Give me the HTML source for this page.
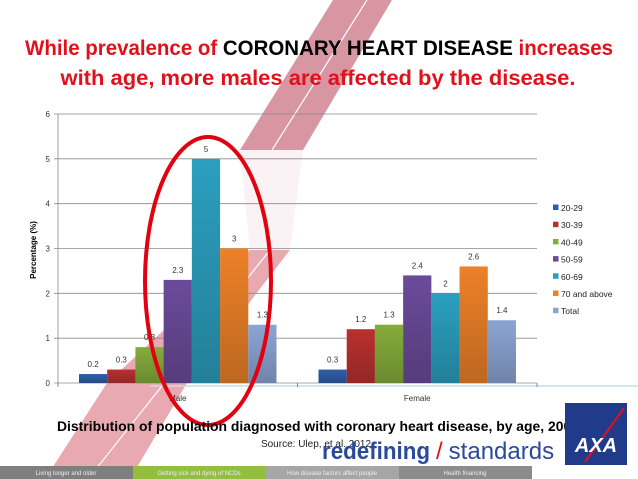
<!DOCTYPE html>
<html><head><meta charset="utf-8"><style>
html,body{margin:0;padding:0;background:#fff;}
svg{display:block;font-family:"Liberation Sans",sans-serif;}
</style></head><body>
<svg id="chart" width="638" height="479" viewBox="0 0 638 479">
  <g>
    <polygon points="333,0 392,0 303,150 240,150" fill="#d48a98" opacity="0.9"/>
    <polygon points="240,150 303,150 290,250 250,250 " fill="#f3dfe3" opacity="0.4"/>
    <polygon points="250,250 290,250 187,383 130,479 45,479 107,383" fill="#e7a0a8" opacity="0.9"/>
    <line x1="367" y1="0" x2="272" y2="150" stroke="#fff" stroke-width="1.2"/>
    <line x1="270" y1="250" x2="88" y2="479" stroke="#fff" stroke-width="1.2"/>
  </g>
  <text x="319" y="55" text-anchor="middle" font-size="21" font-weight="bold" fill="#e3101b" textLength="588" lengthAdjust="spacingAndGlyphs">While prevalence of <tspan fill="#000">CORONARY HEART DISEASE</tspan> increases</text>
  <text x="318" y="85" text-anchor="middle" font-size="21" font-weight="bold" fill="#e3101b" textLength="515" lengthAdjust="spacingAndGlyphs">with age, more males are affected by the disease.</text>
  <g id="plot"></g>
  <text transform="translate(36,250) rotate(-90)" text-anchor="middle" font-size="8" font-weight="bold">Percentage (%)</text>
  <g id="legend"></g>
  <ellipse cx="208" cy="281" rx="63" ry="144" fill="none" stroke="#e3000f" stroke-width="4"/>
  <text x="318" y="431" text-anchor="middle" font-size="14" font-weight="bold" textLength="522" lengthAdjust="spacingAndGlyphs">Distribution of population diagnosed with coronary heart disease, by age, 2008</text>
  <text x="316" y="447" text-anchor="middle" font-size="10" fill="#222">Source: Ulep, et al. 2012</text>
  <text x="322" y="459" font-size="24" fill="#2b4a9b"><tspan font-weight="bold" textLength="108" lengthAdjust="spacingAndGlyphs">redefining</tspan><tspan fill="#e3101b" dx="6">/</tspan><tspan dx="6">standards</tspan></text>
  <g>
    <rect x="565" y="403" width="62" height="62" fill="#1f3b8a"/>
    <line x1="585" y1="462" x2="624" y2="408" stroke="#e3101b" stroke-width="2"/>
    <text x="596" y="452" text-anchor="middle" font-size="20" font-weight="bold" fill="#fff" font-style="italic">AXA</text>
  </g>
  <g>
    <rect x="0" y="466" width="133" height="13" fill="#7f7f7f"/>
    <rect x="133" y="466" width="133" height="13" fill="#92c03e"/>
    <rect x="266" y="466" width="133" height="13" fill="#a6a6a6"/>
    <rect x="399" y="466" width="133" height="13" fill="#8c8c8c"/>
    <text x="66" y="475" text-anchor="middle" font-size="6" fill="#eee">Living longer and older</text>
    <text x="199" y="475" text-anchor="middle" font-size="6" fill="#eee">Getting sick and dying of NCDs</text>
    <text x="332" y="475" text-anchor="middle" font-size="6" fill="#eee">How disease factors affect people</text>
    <text x="465" y="475" text-anchor="middle" font-size="6" fill="#eee">Health financing</text>
  </g>
</svg>
<script>
const categories = ["Male", "Female"];
const seriesNames = ["20-29", "30-39", "40-49", "50-59", "60-69", "70 and above", "Total"];
const maleValues = [0.2, 0.3, 0.8, 2.3, 5, 3, 1.3];
const femaleValues = [0.3, 1.2, 1.3, 2.4, 2, 2.6, 1.4];
const yTicks = [0, 1, 2, 3, 4, 5, 6];
const colors = ["#2f5ea8", "#b8312f", "#85ac3a", "#6a4b9a", "#2b9fbf", "#ec8128", "#8ba5d3"];

const NS = "http://www.w3.org/2000/svg";
const X0 = 58, X1 = 537, Y0 = 383, Y6 = 114, YMAX = 6;
const y = v => Y0 - (v / YMAX) * (Y0 - Y6);
const catW = (X1 - X0) / categories.length;
const gap = 21;
const barW = (catW - 2 * gap) / seriesNames.length;
const xBar = (c, s) => X0 + c * catW + gap + s * barW;
function mk(tag, attrs, parent) {
  const e = document.createElementNS(NS, tag);
  for (const k in attrs) e.setAttribute(k, attrs[k]);
  parent.appendChild(e);
  return e;
}
const plot = document.getElementById("plot");
const defs = mk("defs", {}, plot);
colors.forEach((c, i) => {
  const g = mk("linearGradient", {id: "g" + i, x1: 0, y1: 0, x2: 0, y2: 1}, defs);
  mk("stop", {offset: "0", "stop-color": c}, g);
  mk("stop", {offset: "1", "stop-color": "#000", "stop-opacity": "0"}, g);
  mk("stop", {offset: "1", "stop-color": c}, g);
});
colors.forEach((c, i) => {
  const g = mk("linearGradient", {id: "s" + i, x1: 0, y1: 0, x2: 0, y2: 1}, defs);
  mk("stop", {offset: "0", "stop-color": "#000", "stop-opacity": "0"}, g);
  mk("stop", {offset: "1", "stop-color": "#000", "stop-opacity": "0.2"}, g);
});
yTicks.forEach(t => {
  const l = mk("line", {x1: X0 - 4, x2: X1, y1: y(t), y2: y(t), stroke: "#8a8a8a", "stroke-width": 0.8}, plot);
  
  
  const tx = mk("text", {x: X0 - 8, y: y(t) + 3, "text-anchor": "end", "font-size": 8, fill: "#333"}, plot);
  tx.textContent = t;
  
  
});
const ax = mk("line", {x1: X0, x2: X0, y1: Y6, y2: Y0, stroke: "#888", "stroke-width": 0.8}, plot);


mk("line", {x1: 150, x2: 638, y1: Y0 + 3, y2: Y0 + 3, stroke: "#bfe0ea", "stroke-width": 1.5}, plot);
[0, 1, 2].forEach(i => {
  const tk = mk("line", {x1: X0 + i * catW, x2: X0 + i * catW, y1: Y0, y2: Y0 + 4, stroke: "#888"}, plot);
  
  
});
const allVals = [maleValues, femaleValues];
categories.forEach((cat, c) => {
  allVals[c].forEach((v, s) => {
    const r = mk("rect", {x: xBar(c, s), y: y(v), width: barW, height: Y0 - y(v), fill: colors[s]}, plot);
    
    
    mk("rect", {x: xBar(c, s), y: y(v), width: barW, height: Y0 - y(v), fill: "url(#s" + s + ")"}, plot);
    const lb = mk("text", {x: xBar(c, s) + barW / 2, y: y(v) - 7, "text-anchor": "middle", "font-size": 8, fill: "#333"}, plot);
    lb.textContent = v;
    
    
  });
  const cl = mk("text", {x: X0 + c * catW + catW / 2, y: Y0 + 18, "text-anchor": "middle", "font-size": 8, fill: "#333"}, plot);
  cl.textContent = cat;
  
  
});
const legend = document.getElementById("legend");
seriesNames.forEach((n, i) => {
  const ly = 208 + i * 17.2;
  const sq = mk("rect", {x: 553, y: ly - 3.5, width: 5.5, height: 5.5, fill: colors[i]}, legend);
  
  
  const t = mk("text", {x: 561, y: ly + 3, "font-size": 8.5, fill: "#222"}, legend);
  t.textContent = n;
  
  
});
</script>
</body></html>
